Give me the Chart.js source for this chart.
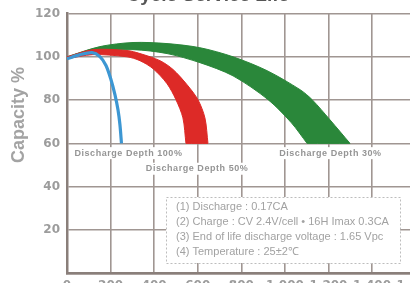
<!DOCTYPE html>
<html>
<head>
<meta charset="utf-8">
<script src="https://cdn.jsdelivr.net/npm/chart.js@4.4.1/dist/chart.umd.min.js"></script>
<style>
    html, body { margin: 0; padding: 0; background: #fff; overflow: hidden; }
    #wrap { position: absolute; left: 0; top: -16px; width: 480px; height: 320px; }
</style>
</head>
<body>
<div id="wrap"><canvas id="lifeChart"></canvas></div>
<script>
// tick values
const cycleTicks = [0, 200, 400, 600, 800, 1000, 1200, 1400, 1600];
const capacityTicks = [0, 20, 40, 60, 80, 100, 120];

// 100% depth of discharge (thin blue line)
const blueCycles = [0, 60, 115, 151, 179, 202, 220, 234, 243, 250];
const blueCapacity = [99.1, 101, 101.9, 100.1, 96, 89.4, 82.5, 75.5, 68.6, 60];

// 50% depth (red band: inner and outer edge)
const redInnerCycles = [0, 119, 275, 335, 395, 459, 500, 532, 546, 546.5, 647];
const redInnerCapacity = [99.1, 101, 100, 98.2, 94.5, 87.6, 80.2, 71.8, 60, 60, 60];
const redOuterCycles = [0, 119, 275, 335, 427, 487, 551, 601, 633, 647];
const redOuterCapacity = [100, 103.3, 102.9, 101.5, 98.2, 94.1, 87.1, 80.2, 71.8, 60];

// 30% depth (green band)
const greenInnerCycles = [0, 151, 303, 459, 610, 762, 923, 1030, 1102, 1102.5, 1299];
const greenInnerCapacity = [99.1, 102.4, 103.3, 101.5, 97.3, 91.2, 80.2, 69.5, 60, 60, 60];
const greenOuterCycles = [0, 151, 303, 459, 610, 762, 918, 1070, 1125, 1207, 1299];
const greenOuterCapacity = [100, 104.7, 106.6, 106.1, 104.2, 100, 93.6, 84.8, 80.2, 70.9, 60];

const depthLabels = ["Discharge Depth 100%", "Discharge Depth 50%", "Discharge Depth 30%"];
const testNotes = [
    "(1) Discharge : 0.17CA",
    "(2) Charge : CV 2.4V/cell \u2022 16H Imax 0.3CA",
    "(3) End of life discharge voltage : 1.65 Vpc",
    "(4) Temperature : 25\u00b12\u2103"
];

const colors = {
    blue: "#3d97d3",
    red: "#dd2a27",
    green: "#2a873a",
    grid: "#a09692",
    axis: "#8a7f7a",
    tick: "#9c9c9c",
    note: "#a2a2a2"
};

const toPoints = (xs, ys) => xs.map((x, i) => ({ x, y: ys[i] }));

const edge = (xs, ys, color, fill) => ({
    data: toPoints(xs, ys),
    borderColor: color,
    backgroundColor: color,
    borderWidth: 1,
    pointRadius: 0,
    tension: 0.3,
    fill
});

const notesPlugin = {
    id: "notes",
    afterDraw(chart) {
        const { ctx, chartArea: area, scales: { x, y } } = chart;
        ctx.save();

        // y axis title
        ctx.save();
        ctx.translate(area.left - 48, area.top + 101.5);
        ctx.rotate(-Math.PI / 2);
        ctx.font = 'bold 18px "Liberation Sans", Arial, sans-serif';
        ctx.fillStyle = "#a3a3a3";
        ctx.textAlign = "center";
        ctx.textBaseline = "middle";
        ctx.fillText("Capacity %", 0, 0);
        ctx.restore();

        // depth labels, anchored in data units
        const anchors = [[282, 55.5], [597, 48.3], [1209, 55.5]];
        ctx.font = 'bold 9px "Liberation Sans", Arial, sans-serif';
        ctx.letterSpacing = "0.55px";
        ctx.textAlign = "center";
        ctx.textBaseline = "middle";
        depthLabels.forEach((text, i) => {
            const px = x.getPixelForValue(anchors[i][0]);
            const py = y.getPixelForValue(anchors[i][1]);
            const w = ctx.measureText(text).width + 6;
            ctx.fillStyle = "#fff";
            ctx.fillRect(px - w / 2, py - 6, w, 12);
            ctx.fillStyle = "#959595";
            ctx.fillText(text, px, py);
        });
        ctx.letterSpacing = "0px";

        // test conditions box
        const bx = area.left + 99, by = area.top + 183.5, bw = 234, bh = 66;
        ctx.fillStyle = "#fff";
        ctx.fillRect(bx, by, bw, bh);
        ctx.setLineDash([2, 2]);
        ctx.strokeStyle = "#bdbdbd";
        ctx.lineWidth = 1;
        ctx.strokeRect(bx + 0.5, by + 0.5, bw, bh);
        ctx.setLineDash([]);
        ctx.font = '11px "Liberation Sans", Arial, sans-serif';
        ctx.textAlign = "left";
        ctx.fillStyle = colors.note;
        testNotes.forEach((t, i) => ctx.fillText(t, bx + 10, by + 10 + i * 15));

        ctx.restore();
    }
};

new Chart(document.getElementById("lifeChart"), {
    type: "line",
    data: {
        datasets: [
            {
                data: toPoints(blueCycles, blueCapacity),
                borderColor: colors.blue,
                borderWidth: 3.2,
                pointRadius: 0,
                tension: 0.3,
                fill: false
            },
            edge(redInnerCycles, redInnerCapacity, colors.red, false),
            edge(redOuterCycles, redOuterCapacity, colors.red, "-1"),
            edge(greenInnerCycles, greenInnerCapacity, colors.green, false),
            edge(greenOuterCycles, greenOuterCapacity, colors.green, "-1")
        ]
    },
    options: {
        responsive: true,
        maintainAspectRatio: false,
        animation: false,
        layout: { padding: { left: 0, right: 64.4, top: 0, bottom: 0 } },
        plugins: {
            legend: { display: false },
            tooltip: { enabled: false },
            title: {
                display: true,
                text: "Cycle Service Life",
                color: "#555",
                font: { family: '"Liberation Sans", Arial, sans-serif', size: 19, weight: "bold", lineHeight: 1.2 },
                padding: { top: 0, bottom: 6.7 }
            }
        },
        scales: {
            x: {
                type: "linear",
                min: 0,
                max: 1600,
                afterBuildTicks: (s) => { s.ticks = cycleTicks.map((v) => ({ value: v })); },
                afterFit: (s) => { s.height = 30.7; },
                grid: { color: colors.grid, lineWidth: 1.6, drawTicks: false },
                border: { color: colors.axis, width: 2.5 },
                ticks: {
                    color: colors.tick,
                    padding: 5,
                    maxRotation: 0,
                    font: { family: '"DejaVu Sans", sans-serif', size: 12, weight: "bold" }
                }
            },
            y: {
                min: 0,
                max: 120,
                afterBuildTicks: (s) => { s.ticks = capacityTicks.map((v) => ({ value: v })); },
                afterFit: (s) => { s.width = 67; },
                grid: { color: colors.grid, lineWidth: 1.6, drawTicks: false },
                border: { color: colors.axis, width: 2.5 },
                ticks: {
                    color: colors.tick,
                    padding: 7,
                    callback: (v) => (v === 0 ? "" : v),
                    font: { family: '"DejaVu Sans", sans-serif', size: 12, weight: "bold" }
                }
            }
        }
    },
    plugins: [notesPlugin]
});
</script>
</body>
</html>
